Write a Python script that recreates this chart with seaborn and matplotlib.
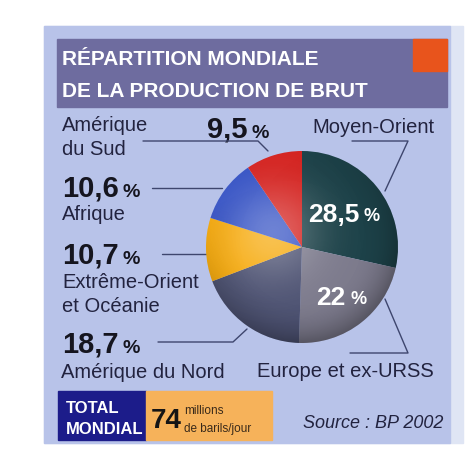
import numpy as np
import matplotlib
matplotlib.use("Agg")
import matplotlib.pyplot as plt
import seaborn as sns
from matplotlib.patches import Rectangle, Circle

sns.set_theme(style="white")
plt.rcParams["font.family"] = ["Liberation Sans", "DejaVu Sans"]

# donnees : part de la production mondiale de brut (%)
regions = ["Moyen-Orient", "Europe et ex-URSS", "Amérique du Nord",
           "Extrême-Orient\net Océanie", "Afrique", "Amérique\ndu Sud"]
parts = [28.5, 22, 18.7, 10.7, 10.6, 9.5]
couleurs = ["#1d4249", "#7c7a8c", "#4d5272", "#f6aa0c", "#3552c4", "#d42320"]
total = 74
titre = ["RÉPARTITION MONDIALE", "DE LA PRODUCTION DE BRUT"]
source = "Source : BP 2002"


def fmt(v):
    return f"{v:g}".replace(".", ",")


texte = "#22233f"
ligne = "#3e466e"

fig = plt.figure(figsize=(4.68, 4.52), dpi=100)
fig.patch.set_facecolor("white")

# axe de fond en pixels
bg = fig.add_axes([0, 0, 1, 1])
bg.set_xlim(0, 468)
bg.set_ylim(452, 0)
bg.axis("off")

bg.add_patch(Rectangle((44, 27), 419, 417, color="#dfe5f4", zorder=0))
bg.add_patch(Rectangle((44, 27), 406, 417, color="#b8c3e9", zorder=1))
bg.add_patch(Rectangle((57, 40), 390, 68, color="#6e6c9f", zorder=2))
bg.add_patch(Rectangle((413, 40), 34, 32, color="#e8541c", zorder=3))
bg.add_patch(Rectangle((58, 392), 88, 49, color="#1c1c8a", zorder=2))
bg.add_patch(Rectangle((146, 392), 126, 49, color="#f6b25a", zorder=2))

# titre
bg.text(62, 65, titre[0], color="white", fontsize=15, fontweight="bold", zorder=4)
bg.text(62, 97, titre[1], color="white", fontsize=15, fontweight="bold", zorder=4)

# camembert
ax = fig.add_axes([206 / 468, (452 - 344) / 452, 192 / 468, 192 / 452])
wedges, _ = ax.pie(parts, colors=couleurs, startangle=90, counterclock=False,
                   radius=1, wedgeprops=dict(linewidth=0))
ax.set_xlim(-1, 1)
ax.set_ylim(-1, 1)
ax.axis("off")

# effet de relief
xx, yy = np.meshgrid(np.linspace(-1, 1, 300), np.linspace(-1, 1, 300))
d = np.sqrt((xx + 0.3) ** 2 + (yy - 0.15) ** 2)
hl = np.zeros((300, 300, 4))
hl[..., :3] = 1
hl[..., 3] = 0.28 * np.exp(-d ** 2 / 0.25)
im = ax.imshow(hl, extent=(-1, 1, -1, 1), origin="lower", zorder=3)
im.set_clip_path(Circle((0, 0), 1, transform=ax.transData))
r = np.sqrt(xx ** 2 + yy ** 2)
sh = np.zeros((300, 300, 4))
sh[..., 3] = 0.3 * np.clip((r - 0.55) / 0.45, 0, 1) ** 2 * np.clip(0.5 - 0.5 * yy + 0.3 * xx, 0, 1)
im2 = ax.imshow(sh, extent=(-1, 1, -1, 1), origin="lower", zorder=3)
im2.set_clip_path(Circle((0, 0), 1, transform=ax.transData))


def pourcent(t, taille, couleur, cible):
    # petit signe % colle apres le nombre
    cible.annotate("%", xy=(1, 0), xycoords=t, xytext=(3, 1.5), textcoords="offset points",
                   color=couleur, fontsize=taille, fontweight="bold", va="bottom", zorder=5)


# valeurs dans les deux plus grosses parts
for w, v, rr in zip(wedges[:2], parts[:2], [0.55, 0.66]):
    a = np.deg2rad((w.theta1 + w.theta2) / 2)
    t = ax.text(rr * np.cos(a) - 0.1, rr * np.sin(a), fmt(v), color="white",
                fontsize=19, fontweight="bold", ha="center", va="center", zorder=5)
    pourcent(t, 13, "white", ax)


def valeur(x, y, v):
    t = bg.text(x, y, fmt(v), color="#15151f", fontsize=21, fontweight="bold",
                va="baseline", zorder=4)
    pourcent(t, 14, "#15151f", bg)


def nom(x, y, s, **kw):
    bg.text(x, y, s, color=texte, fontsize=14.5, va="baseline", zorder=4, **kw)


# etiquettes a gauche
valeur(207, 138, parts[5])
nom(62, 131, regions[5].split("\n")[0])
nom(62, 155, regions[5].split("\n")[1])
valeur(62, 197, parts[4])
nom(62, 220, regions[4])
valeur(62, 264, parts[3])
nom(62, 288, regions[3].split("\n")[0])
nom(62, 312, regions[3].split("\n")[1])
valeur(62, 353, parts[2])
nom(61, 378, regions[2])

# etiquettes a droite
nom(435, 133, regions[0], ha="right")
nom(434, 377, regions[1], ha="right")

# traits de rappel
kw = dict(color=ligne, lw=1, zorder=4)
bg.plot([143, 258, 268], [142, 142, 152], **kw)
bg.plot([152, 222], [189, 189], **kw)
bg.plot([162, 207], [255, 255], **kw)
bg.plot([158, 233, 247], [343, 343, 330], **kw)
bg.plot([352, 408, 385], [142, 142, 192], **kw)
bg.plot([385, 408, 350], [300, 354, 354], **kw)

# total mondial
bg.text(66, 413, "TOTAL", color="white", fontsize=12, fontweight="bold", zorder=4)
bg.text(66, 434, "MONDIAL", color="white", fontsize=12, fontweight="bold", zorder=4)
bg.text(151, 428, str(total), color="#151515", fontsize=20, fontweight="bold", zorder=4)
bg.text(184, 414, "millions", color="#3a2a1a", fontsize=8.5, zorder=4)
bg.text(184, 432, "de barils/jour", color="#3a2a1a", fontsize=8.5, zorder=4)
bg.text(443, 428, source, color=texte, fontsize=13, fontstyle="italic", ha="right", zorder=4)

fig.savefig("out.png", dpi=100, facecolor=fig.get_facecolor())
